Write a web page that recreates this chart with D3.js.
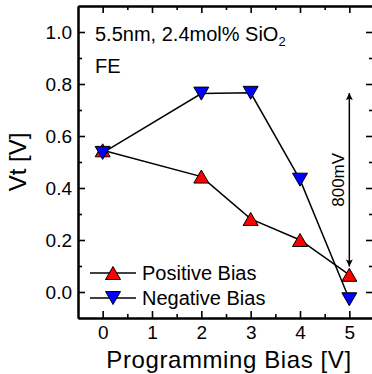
<!DOCTYPE html>
<html>
<head>
<meta charset="utf-8">
<script src="https://cdn.jsdelivr.net/npm/d3@7"></script>
<style>
  body { margin: 0; background: #fff; }
  svg text { font-family: "Liberation Sans", Arial, sans-serif; fill: #000; }
</style>
</head>
<body>
<div id="chart"></div>
<script>
// data
var bias = [0, 2, 3, 4, 5];
var positiveBias = [0.545, 0.444, 0.281, 0.200, 0.066];
var negativeBias = [0.535, 0.763, 0.766, 0.432, -0.028];
var xTicks = [0, 1, 2, 3, 4, 5];
var yTicks = [0.0, 0.2, 0.4, 0.6, 0.8, 1.0];
var arrowSpan = [0.765, 0.098]; // 800mV annotation, at bias 5

var svgWidth = 372;
var svgHeight = 374;

var svg = d3.select("#chart")
  .append("svg")
  .attr("width", svgWidth)
  .attr("height", svgHeight);

var x = d3.scaleLinear().domain([-0.5, 5.5]).range([78, 374]);
var y = d3.scaleLinear().domain([-0.1, 1.1]).range([318, 6]);

var xMinor = d3.range(0.5, 5, 1);
var yMinor = d3.range(0.1, 1.1, 0.2);

function styleAxis(g) {
  g.selectAll("path.domain").attr("stroke-width", 2);
  g.selectAll(".tick line").attr("stroke-width", 1.6);
  g.selectAll("text").attr("font-size", "19px").attr("font-family", "Liberation Sans, Arial, sans-serif");
}

// bottom axis (ticks point inward)
svg.append("g")
  .attr("transform", "translate(0," + y.range()[0] + ")")
  .call(d3.axisBottom(x).tickValues(xTicks).tickFormat(d3.format("d")).tickSizeInner(-7).tickSizeOuter(0).tickPadding(8))
  .call(styleAxis);
svg.append("g")
  .attr("transform", "translate(0," + y.range()[0] + ")")
  .call(d3.axisBottom(x).tickValues(xMinor).tickFormat("").tickSizeInner(-4).tickSizeOuter(0))
  .call(styleAxis);

// top axis
svg.append("g")
  .attr("transform", "translate(0," + y.range()[1] + ")")
  .call(d3.axisTop(x).tickValues(xTicks).tickFormat("").tickSizeInner(-7).tickSizeOuter(0))
  .call(styleAxis);
svg.append("g")
  .attr("transform", "translate(0," + y.range()[1] + ")")
  .call(d3.axisTop(x).tickValues(xMinor).tickFormat("").tickSizeInner(-4).tickSizeOuter(0))
  .call(styleAxis);

// left axis
svg.append("g")
  .attr("transform", "translate(" + x.range()[0] + ",0)")
  .call(d3.axisLeft(y).tickValues(yTicks).tickFormat(d3.format(".1f")).tickSizeInner(-7).tickSizeOuter(0).tickPadding(6))
  .call(styleAxis);
svg.append("g")
  .attr("transform", "translate(" + x.range()[0] + ",0)")
  .call(d3.axisLeft(y).tickValues(yMinor).tickFormat("").tickSizeInner(-4).tickSizeOuter(0))
  .call(styleAxis);

// right axis
svg.append("g")
  .attr("transform", "translate(" + (x.range()[1] - 1) + ",0)")
  .call(d3.axisRight(y).tickValues(yTicks).tickFormat("").tickSizeInner(-7).tickSizeOuter(0))
  .call(styleAxis);
svg.append("g")
  .attr("transform", "translate(" + (x.range()[1] - 1) + ",0)")
  .call(d3.axisRight(y).tickValues(yMinor).tickFormat("").tickSizeInner(-4).tickSizeOuter(0))
  .call(styleAxis);

// triangle markers, centred on their bounding box
var upTri = "M0,-6.5L7.5,6.5L-7.5,6.5Z";
var downTri = "M0,6.5L7.5,-6.5L-7.5,-6.5Z";

var line = d3.line()
  .x(function(d) { return x(d[0]); })
  .y(function(d) { return y(d[1]); });

var series = [
  { name: "Positive Bias", values: positiveBias, shape: upTri, color: "#ff0000" },
  { name: "Negative Bias", values: negativeBias, shape: downTri, color: "#0000ff" }
];

series.forEach(function(s) {
  var pts = bias.map(function(b, i) { return [b, s.values[i]]; });
  svg.append("path")
    .datum(pts)
    .attr("d", line)
    .attr("fill", "none")
    .attr("stroke", "#000")
    .attr("stroke-width", 1.5);
});

// markers drawn after both lines
series.forEach(function(s) {
  svg.append("g").selectAll("path")
    .data(bias.map(function(b, i) { return [b, s.values[i]]; }))
    .enter()
    .append("path")
    .attr("d", s.shape)
    .attr("transform", function(d) { return "translate(" + x(d[0]) + "," + y(d[1]) + ")"; })
    .attr("fill", s.color)
    .attr("stroke", "#000")
    .attr("stroke-width", 1);
});

// double arrow annotation
var defs = svg.append("defs");
defs.append("marker")
  .attr("id", "head")
  .attr("viewBox", "0 0 10 10")
  .attr("refX", 10).attr("refY", 5)
  .attr("markerWidth", 12).attr("markerHeight", 7)
  .attr("markerUnits", "userSpaceOnUse")
  .attr("orient", "auto-start-reverse")
  .append("path")
  .attr("d", "M0,0L10,5L0,10L2,5Z")
  .attr("fill", "#000");

svg.append("line")
  .attr("x1", x(5)).attr("x2", x(5))
  .attr("y1", y(arrowSpan[0])).attr("y2", y(arrowSpan[1]))
  .attr("stroke", "#000")
  .attr("stroke-width", 1.5)
  .attr("marker-start", "url(#head)")
  .attr("marker-end", "url(#head)");

svg.append("text")
  .attr("transform", "translate(" + (x(5) - 5) + "," + y((arrowSpan[0] + arrowSpan[1]) / 2) + ") rotate(-90)")
  .attr("text-anchor", "middle")
  .attr("font-size", "17px")
  .text("800mV");

// annotation text
var label = svg.append("text")
  .attr("x", 95)
  .attr("y", 41)
  .attr("font-size", "20px");
label.append("tspan").text("5.5nm, 2.4mol% SiO");
label.append("tspan").attr("font-size", "13px").attr("dy", 5).text("2");

svg.append("text")
  .attr("x", 95)
  .attr("y", 73)
  .attr("font-size", "20px")
  .text("FE");

// legend
var legend = svg.append("g");
series.forEach(function(s, i) {
  var ly = 273 + i * 25;
  legend.append("line")
    .attr("x1", 90).attr("x2", 136)
    .attr("y1", ly).attr("y2", ly)
    .attr("stroke", "#000").attr("stroke-width", 1.5);
  legend.append("path")
    .attr("d", s.shape)
    .attr("transform", "translate(113," + ly + ")")
    .attr("fill", s.color)
    .attr("stroke", "#000");
  legend.append("text")
    .attr("x", 142)
    .attr("y", ly)
    .attr("dy", "0.35em")
    .attr("font-size", "20px")
    .text(s.name);
});

// axis titles
svg.append("text")
  .attr("transform", "translate(" + 26 + "," + 162 + ") rotate(-90)")
  .attr("text-anchor", "middle")
  .attr("font-size", "24px")
  .text("Vt [V]");

svg.append("text")
  .attr("x", 229)
  .attr("y", 368)
  .attr("text-anchor", "middle")
  .attr("font-size", "24px")
  .attr("letter-spacing", "0.6px")
  .text("Programming Bias [V]");
</script>
</body>
</html>
